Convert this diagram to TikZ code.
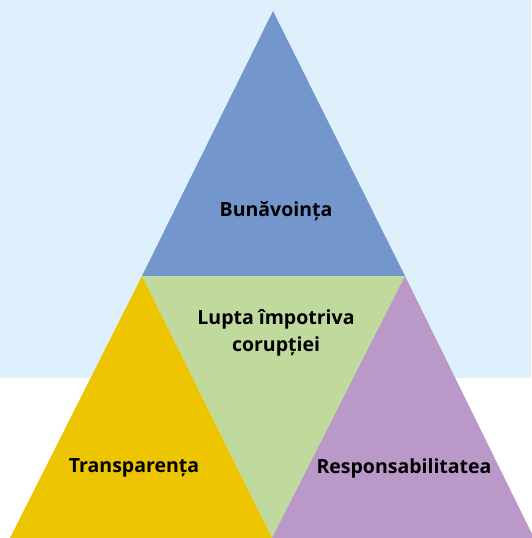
\documentclass[tikz,border=0pt]{standalone}
\usepackage{fontspec}
\setmainfont{Open Sans}
\definecolor{bgblue}{HTML}{DFF0FD}
\definecolor{topblue}{HTML}{7396CC}
\definecolor{midgreen}{HTML}{C0DA9E}
\definecolor{leftyellow}{HTML}{ECC500}
\definecolor{rightpurple}{HTML}{BA98C7}
\begin{document}
\begin{tikzpicture}[x=1pt,y=-1pt,
  lbl/.style={font=\bfseries\fontsize{19.5}{27}\selectfont, align=center, text=black, inner sep=0pt}]
\useasboundingbox (0,0) rectangle (531,538);
\fill[bgblue] (0,0) rectangle (531,378);
\coordinate (A) at (273,11);
\coordinate (L) at (142,276);
\coordinate (R) at (405,276);
\coordinate (BL) at (10,538);
\coordinate (BM) at (272,538);
\coordinate (BR) at (534,538);
\fill[topblue] (A) -- (R) -- (L) -- cycle;
\fill[midgreen] (L) -- (R) -- (BM) -- cycle;
\fill[leftyellow] (L) -- (BM) -- (BL) -- cycle;
\fill[rightpurple] (R) -- (BR) -- (BM) -- cycle;
\node[lbl] (top) at (276,211) {Bunăvoința};
\node[lbl] (mid) at (276,333) {Lupta împotriva\\corupției};
\node[lbl] (left) at (134,468) {Transparența};
\node[lbl] (right) at (404,468) {Responsabilitatea};
\end{tikzpicture}
\end{document}
